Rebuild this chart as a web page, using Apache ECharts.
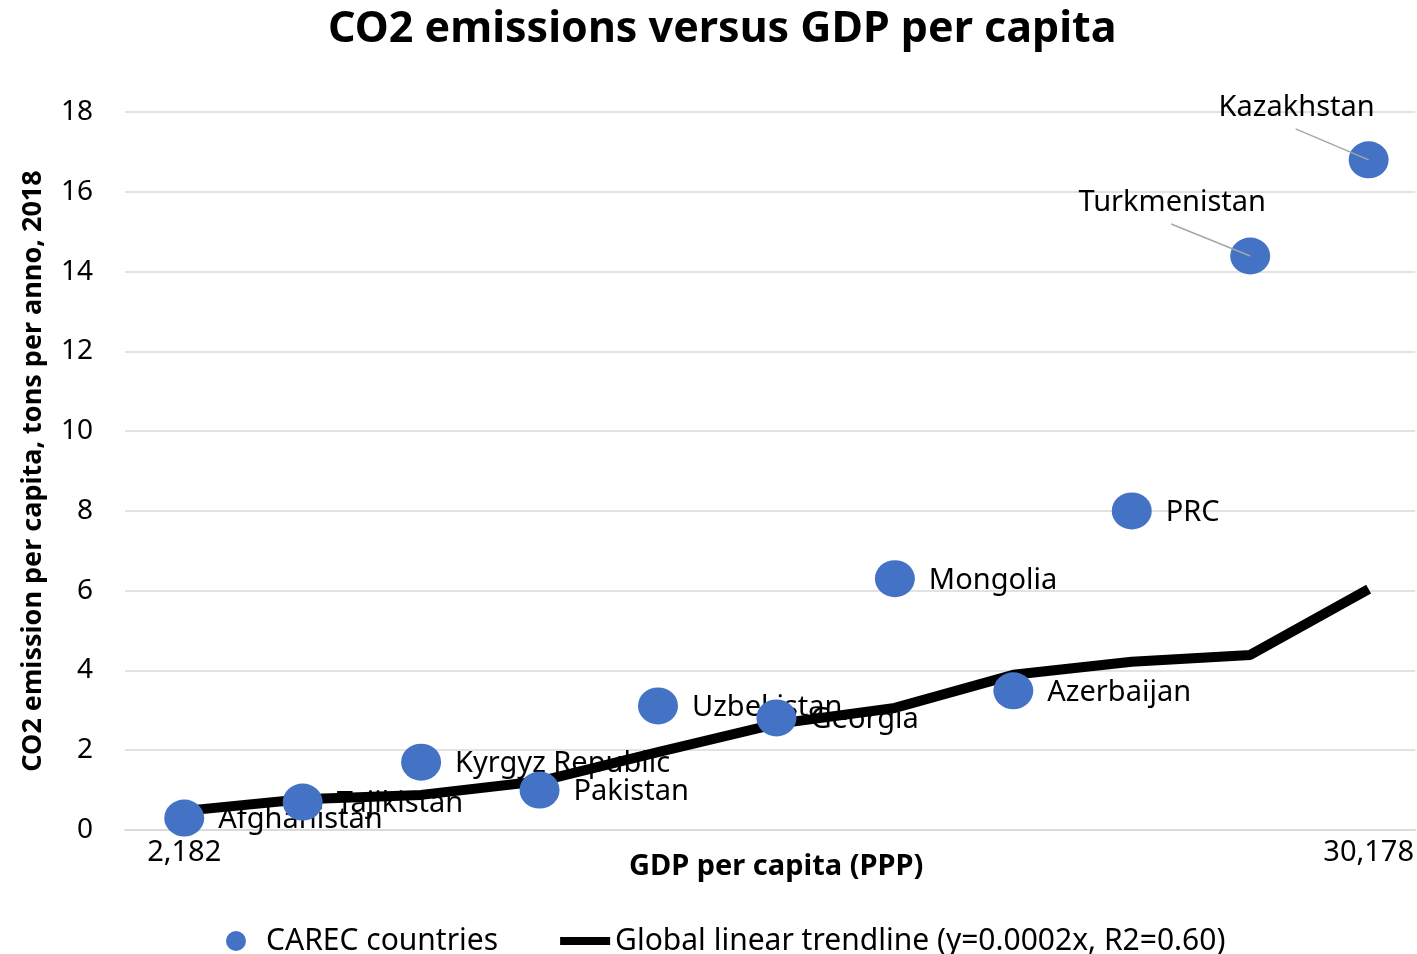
<!DOCTYPE html>
<html>
<head>
<meta charset="utf-8">
<script src="https://cdn.jsdelivr.net/npm/echarts@6/dist/echarts.min.js"></script>
<style>
html,body{margin:0;padding:0;background:#fff;}
#chart{width:1417px;height:954px;}
</style>
</head>
<body>
<div id="chart"></div>
<script>
const countries = ['Afghanistan','Tajikistan','Kyrgyz Republic','Pakistan','Uzbekistan','Georgia','Mongolia','Azerbaijan','PRC','Turkmenistan','Kazakhstan'];
const co2PerCapita = [0.30,0.70,1.70,1.00,3.11,2.81,6.30,3.49,8.00,14.39,16.80];
const trendline = [0.48,0.77,0.88,1.22,1.95,2.66,3.06,3.89,4.22,4.39,6.04];
const xTickLabels = ['2,182','','','','','','','','','','30,178'];
const yTicks = [0,2,4,6,8,10,12,14,16,18];

const seriesName1 = 'CAREC countries';
const seriesName2 = 'Global linear trendline (y=0.0002x, R2=0.60)';
// label placement offsets (pixels, relative to the marker) for labels with leader lines
const leaderText = {9: [-78, -53], 10: [-72, -52]};
const leaderStart = {9: [-79, -32], 10: [-73, -31]};

const chart = echarts.init(document.getElementById('chart'), null, {renderer: 'canvas'});
const labelFont = "'Noto Sans', 'Open Sans', sans-serif";
const boldFont = "'Noto Sans', sans-serif";

const idx = countries.map((c, i) => i);
const scatterData = idx.map(i => [i, co2PerCapita[i]]);
const lineData = idx.map(i => [i, trendline[i]]);

chart.setOption({
  animation: false,
  backgroundColor: '#ffffff',
  title: {
    text: 'CO2 emissions versus GDP per capita',
    left: 323, top: 3,
    textStyle: {fontFamily: boldFont, fontWeight: 'bold', fontSize: 43, color: '#000'}
  },
  legend: {
    data: [{name: seriesName1, icon: 'circle'}, {name: seriesName2, icon: 'path://M0,0 L50,0 L50,8 L0,8 Z'}],
    left: 221, top: 921,
    itemWidth: 50, itemHeight: 20, itemGap: 62,
    textStyle: {fontFamily: labelFont, fontSize: 30, color: '#000'}
  },
  grid: {left: 125, top: 112, right: 0, height: 718},
  xAxis: {
    type: 'value',
    min: -0.5, max: 10.394,
    name: 'GDP per capita (PPP)',
    nameLocation: 'middle', nameGap: 22, nameMoveOverlap: false,
    nameTextStyle: {fontFamily: boldFont, fontWeight: 'bold', fontSize: 29, color: '#000', padding: [0, 0, 0, 12]},
    axisLine: {show: true, onZero: false, lineStyle: {color: '#d9d9d9', width: 1.5}},
    axisTick: {show: false},
    axisLabel: {
      customValues: [0, 10], margin: 8,
      formatter: (v) => xTickLabels[Math.round(v)],
      fontFamily: labelFont, fontSize: 29, color: '#000'
    },
    splitLine: {show: false}
  },
  yAxis: {
    type: 'value', min: yTicks[0], max: yTicks[yTicks.length-1], interval: 2,
    name: 'CO2 emission per capita, tons per anno, 2018',
    nameLocation: 'middle', nameGap: 78, nameRotate: 90,
    nameTextStyle: {fontFamily: boldFont, fontWeight: 'bold', fontSize: 27, color: '#000'},
    axisLine: {show: false}, axisTick: {show: false},
    axisLabel: {margin: 32, fontFamily: labelFont, fontSize: 28, color: '#000'},
    splitLine: {lineStyle: {color: '#d9d9d9', width: 1.5}}
  },
  series: [
    {
      name: 'labels', type: 'custom', z: 1, silent: true,
      data: scatterData,
      renderItem: function (params, api) {
        const i = params.dataIndex;
        const pt = api.coord([api.value(0), api.value(1)]);
        const d = leaderText[i];
        const base = {text: countries[i], fill: '#000', fontSize: 29, fontFamily: labelFont, verticalAlign: 'middle'};
        if (d) {
          return {type: 'text', style: Object.assign(base, {x: pt[0] + d[0], y: pt[1] + d[1], align: 'center'})};
        }
        return {type: 'text', style: Object.assign(base, {x: pt[0] + 34, y: pt[1] + 2, align: 'left'})};
      }
    },
    {
      name: seriesName2, type: 'line', z: 2,
      data: lineData,
      symbol: 'none', showSymbol: false,
      lineStyle: {color: '#000', width: 10},
      itemStyle: {color: '#000'}
    },
    {
      name: seriesName1, type: 'scatter', z: 3,
      symbol: 'circle', symbolSize: [40, 37],
      itemStyle: {color: '#4472C4', opacity: 1},
      data: scatterData
    },
    {
      name: 'leaders', type: 'custom', z: 4, silent: true,
      data: scatterData,
      renderItem: function (params, api) {
        const i = params.dataIndex;
        const d = leaderStart[i];
        if (!d) return null;
        const pt = api.coord([api.value(0), api.value(1)]);
        return {type: 'line', shape: {x1: pt[0] + d[0], y1: pt[1] + d[1], x2: pt[0], y2: pt[1]},
                style: {stroke: '#a6a6a6', lineWidth: 1.5}};
      }
    }
  ]
});
</script>
</body>
</html>
